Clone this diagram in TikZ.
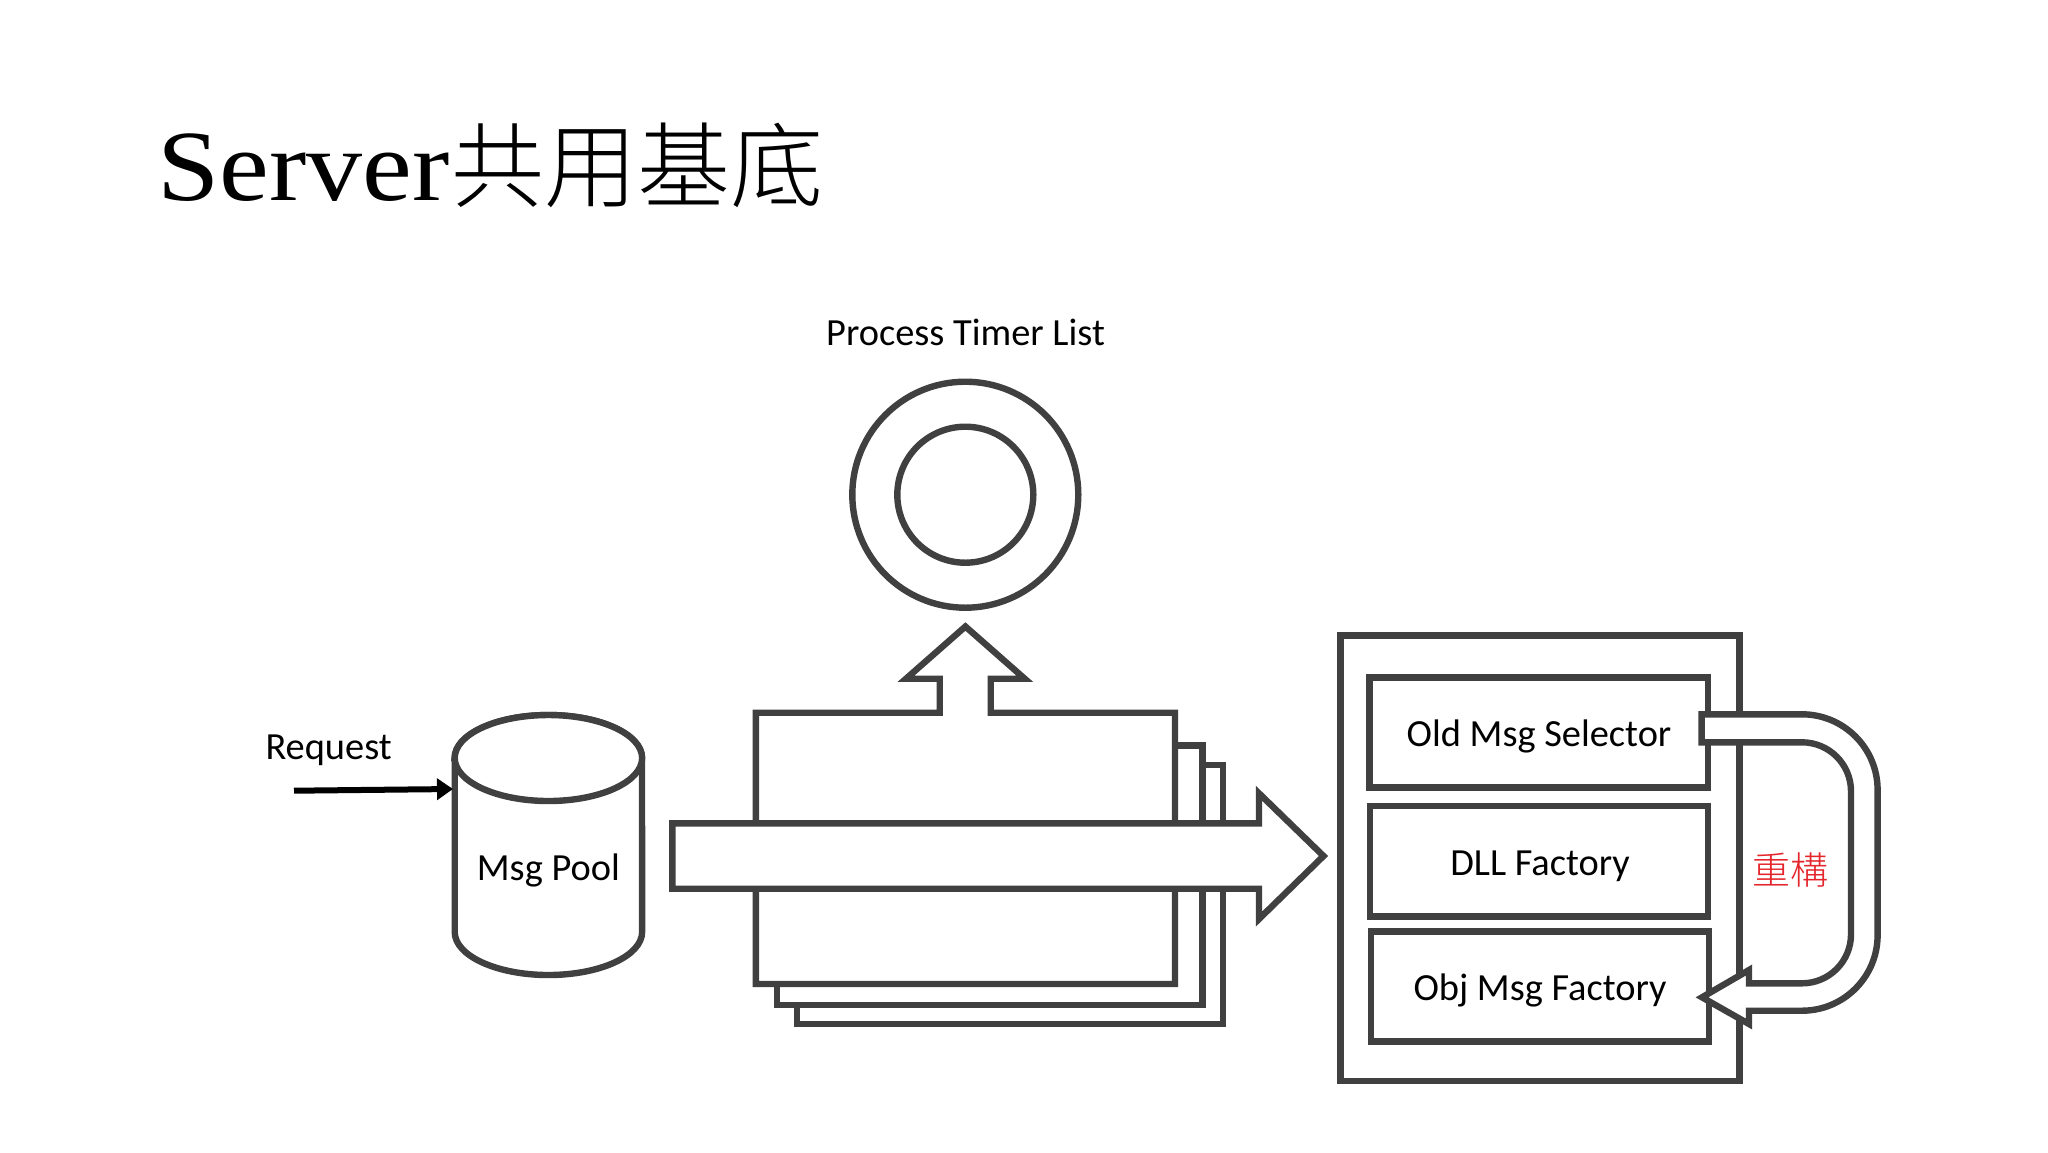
\documentclass[tikz,border=0pt]{standalone}
\usepackage{fontspec}
\usepackage{graphicx}
\usetikzlibrary{arrows.meta}
\setmainfont{Carlito}
\newfontfamily\titlefont{Liberation Serif}
\newfontfamily\cjk{Noto Sans CJK TC Light}
\definecolor{edge}{HTML}{404040}
\definecolor{redtext}{HTML}{E4262C}
\tikzset{
  shapeline/.style={draw=edge,line width=3.2pt,fill=white,miter limit=10},
  label/.style={anchor=base,inner sep=0pt,font=\fontsize{19.2}{23}\selectfont,text=black},
}
\begin{document}
\begin{tikzpicture}[x=0.5pt,y=-0.5pt]
\useasboundingbox[fill=white] (0,0) rectangle (2048,1152);
% title
\node[anchor=base west,inner sep=0pt] (title) at (157,200) {\fontsize{56}{60}\selectfont\titlefont\scalebox{1}[0.9]{Server}\hspace{1pt}\fontsize{46.5}{60}\selectfont\cjk 共用基底};
% labels of the top
\node[label] (timer) at (965.5,345.5) {Process Timer List};
\node[label] (req) at (328.6,759.3) {Request};
% timer circle
\node[shapeline,circle,minimum size=113pt,inner sep=0pt] (outerc) at (965.3,494.7) {};
\node[shapeline,circle,minimum size=68pt,inner sep=0pt] (innerc) at (965.3,494.7) {};
% cylinder
\draw[shapeline] (454.7,758) -- (454.7,932) arc[start angle=180,end angle=0,x radius=93.7,y radius=43] -- (642,758) arc[start angle=0,end angle=-180,x radius=93.7,y radius=43] -- cycle;
\draw[shapeline] (548.4,758) ellipse[x radius=93.7,y radius=43];
\node[label] (pool) at (548.4,880.3) {Msg Pool};
% request arrow
\coordinate (reqstart) at (294,790.7);
\coordinate (reqend) at (453,789);
\draw[line width=3pt,black,-{Triangle[length=8pt,width=10.5pt]}] (reqstart) -- (reqend);
% stack
\draw[shapeline] (797,764.7) rectangle (1223,1024);
\draw[shapeline] (777,745.3) rectangle (1202.6,1005);
\draw[shapeline] (755.8,712.7) -- (939.7,712.7) -- (939.7,678.7) -- (906,678.7) -- (965.4,626.5) -- (1024.7,678.7) -- (990.7,678.7) -- (990.7,712.7) -- (1175,712.7) -- (1175,984) -- (755.8,984) -- cycle;
% long arrow
\draw[shapeline] (672.4,823.3) -- (1259,823.3) -- (1259,793.3) -- (1323.5,856) -- (1259,919) -- (1259,888.7) -- (672.4,888.7) -- cycle;
% factory group
\draw[shapeline] (1340.4,635.3) rectangle (1739.5,1081);
\draw[shapeline] (1369.4,677.3) rectangle (1708,787.3);
\draw[shapeline] (1370,806) rectangle (1708,916.3);
\draw[shapeline] (1371,931.3) rectangle (1709,1041.3);
\node[label] (old) at (1539,746) {Old Msg Selector};
\node[label] (dll) at (1540,875) {DLL Factory};
\node[label] (obj) at (1540,1000) {Obj Msg Factory};
% U arrow
\draw[shapeline] (1701.6,714.3) -- (1802,714.3) arc[start angle=-90,end angle=0,radius=75.6] -- (1877.6,935.1) arc[start angle=0,end angle=90,radius=75.6] -- (1749,1010.7) -- (1749,1024) -- (1702,997.3) -- (1749,970) -- (1749,983.3) -- (1802,983.3) arc[start angle=90,end angle=0,radius=49] -- (1851,791.3) arc[start angle=0,end angle=-90,radius=49] -- (1701.6,742.3) -- cycle;
\node[inner sep=0pt,text=redtext,font=\fontsize{19}{23}\selectfont\cjk] (refactor) at (1790,870) {重構};
\end{tikzpicture}
\end{document}
